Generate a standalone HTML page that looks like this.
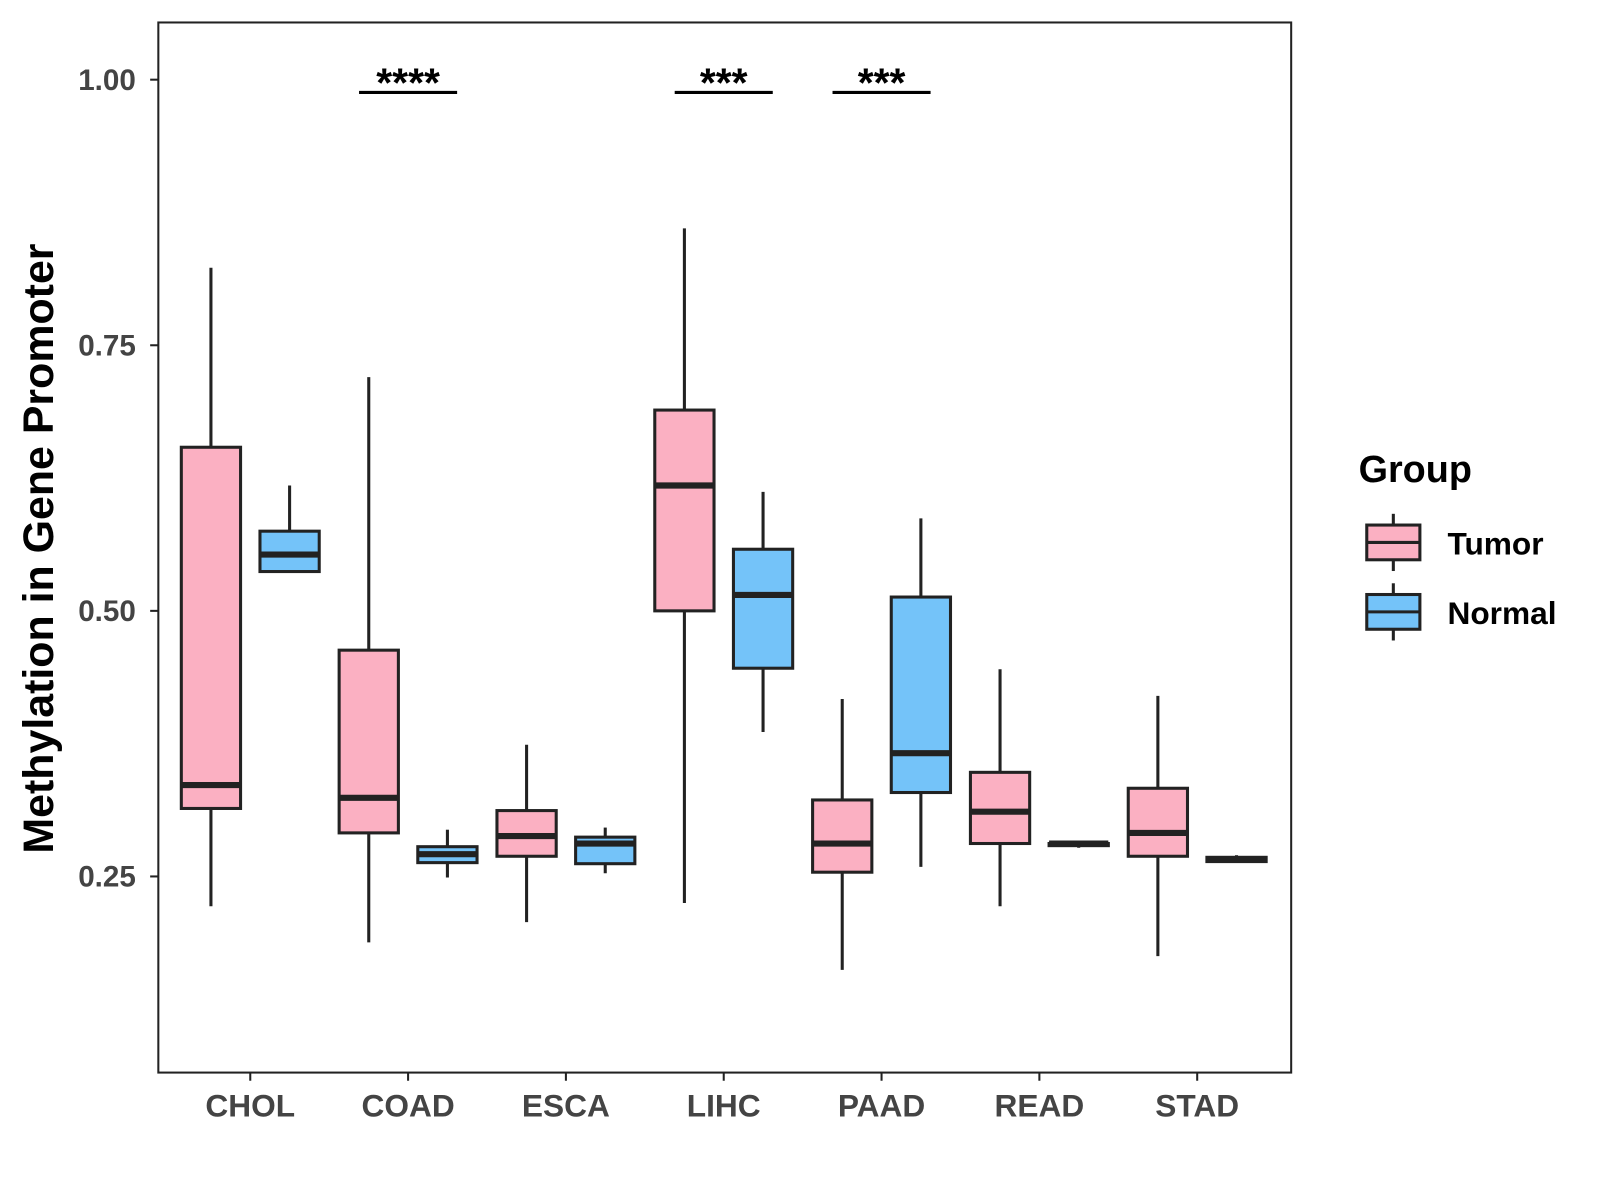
<!DOCTYPE html>
<html><head><meta charset="utf-8"><style>
html,body{margin:0;padding:0;background:#fff;}
svg{display:block;font-family:"Liberation Sans",Arial,sans-serif;}
</style></head><body>
<svg id="chart" width="1600" height="1200" viewBox="0 0 1600 1200" xmlns="http://www.w3.org/2000/svg">
<rect x="0" y="0" width="1600" height="1200" fill="#fff"/>
<g transform="scale(1.0215)">
<rect x="155" y="22" width="1109" height="1028" fill="none" stroke="#222" stroke-width="2"/>
<g id="marks"></g>
<text transform="translate(52,537) rotate(-90)" text-anchor="middle" font-size="42" font-weight="bold" fill="#000">Methylation in Gene Promoter</text>
<g>
<text x="1330" y="472" font-size="37" font-weight="bold">Group</text>
<g>
<line x1="1364" y1="503" x2="1364" y2="559" stroke="#222" stroke-width="3"/>
<rect x="1338" y="514" width="52" height="34" fill="#FBB0C2" stroke="#222" stroke-width="3"/>
<line x1="1338" y1="531" x2="1390" y2="531" stroke="#222" stroke-width="3"/>
<text x="1417" y="543" font-size="31" font-weight="bold">Tumor</text></g>
<g>
<line x1="1364" y1="571" x2="1364" y2="627" stroke="#222" stroke-width="3"/>
<rect x="1338" y="582" width="52" height="34" fill="#74C3F9" stroke="#222" stroke-width="3"/>
<line x1="1338" y1="599" x2="1390" y2="599" stroke="#222" stroke-width="3"/>
<text x="1417" y="611" font-size="31" font-weight="bold">Normal</text></g>
</g>
</g>
</svg>
<script>
const categories=["CHOL","COAD","ESCA","LIHC","PAAD","READ","STAD"];
// [low, q1, median, q3, high]
const tumorStats=[[0.222,0.314,0.336,0.654,0.823],[0.188,0.291,0.324,0.463,0.720],[0.207,0.269,0.288,0.312,0.374],[0.225,0.500,0.618,0.689,0.860],[0.162,0.254,0.281,0.322,0.417],[0.222,0.281,0.311,0.348,0.445],[0.175,0.269,0.291,0.333,0.420]];
const normalStats=[[0.537,0.537,0.553,0.575,0.618],[0.249,0.263,0.271,0.278,0.294],[0.253,0.262,0.281,0.287,0.296],[0.386,0.446,0.515,0.558,0.612],[0.259,0.329,0.366,0.513,0.587],[0.277,0.279,0.281,0.281,0.283],[0.263,0.264,0.266,0.268,0.270]];
const yTicks=[0.25,0.50,0.75,1.00];
const yTickLabels=["0.25","0.50","0.75","1.00"];
const sigCategories=["COAD","LIHC","PAAD"];
const sigLabels=["****","***","***"];
const sigLevel=0.988;

const NS="http://www.w3.org/2000/svg";
const g=document.getElementById("marks");
const y=v=>78+(1-v)*1040;
const x=i=>245+i*154.5;
function el(t,a){const e=document.createElementNS(NS,t);for(const k in a)e.setAttribute(k,a[k]);g.appendChild(e);return e;}

yTicks.forEach((t,i)=>{
  const l=el("line",{x1:147,x2:155,y1:y(t),y2:y(t),stroke:"#222","stroke-width":2});
  
  
  const tx=el("text",{x:133,y:y(t)+10,"text-anchor":"end","font-size":29,"font-weight":"bold",fill:"#444"});
  tx.textContent=yTickLabels[i];
  
  
});
categories.forEach((c,i)=>{
  const l=el("line",{x1:x(i),x2:x(i),y1:1050,y2:1058,stroke:"#222","stroke-width":2});
  
  
  const tx=el("text",{x:x(i),y:1093,"text-anchor":"middle","font-size":31,"font-weight":"bold",fill:"#444"});
  tx.textContent=c;
  
  
});
function box(cx,s,fill,name){
  const w=58;
  const wl=el("line",{x1:cx,x2:cx,y1:y(s[0]),y2:y(s[4]),stroke:"#222","stroke-width":3});
  
  
  const r=el("rect",{x:cx-w/2,y:y(s[3]),width:w,height:Math.max(y(s[1])-y(s[3]),1),fill:fill,stroke:"#222","stroke-width":3});
  
  
  const m=el("line",{x1:cx-w/2,x2:cx+w/2,y1:y(s[2]),y2:y(s[2]),stroke:"#222","stroke-width":6});
  
  
}
categories.forEach((c,i)=>{
  box(x(i)-38.5,tumorStats[i],"#FBB0C2",c.toLowerCase()+"-tumor");
  box(x(i)+38.5,normalStats[i],"#74C3F9",c.toLowerCase()+"-normal");
});
sigCategories.forEach((c,k)=>{
  const i=categories.indexOf(c);
  const l=el("line",{x1:x(i)-48,x2:x(i)+48,y1:y(sigLevel),y2:y(sigLevel),stroke:"#000","stroke-width":3});
  
  
  const t=el("text",{x:x(i),y:y(sigLevel)+4,"text-anchor":"middle","font-size":40,"font-weight":"bold"});
  t.textContent=sigLabels[k];
  
  
});
</script>
</body></html>
